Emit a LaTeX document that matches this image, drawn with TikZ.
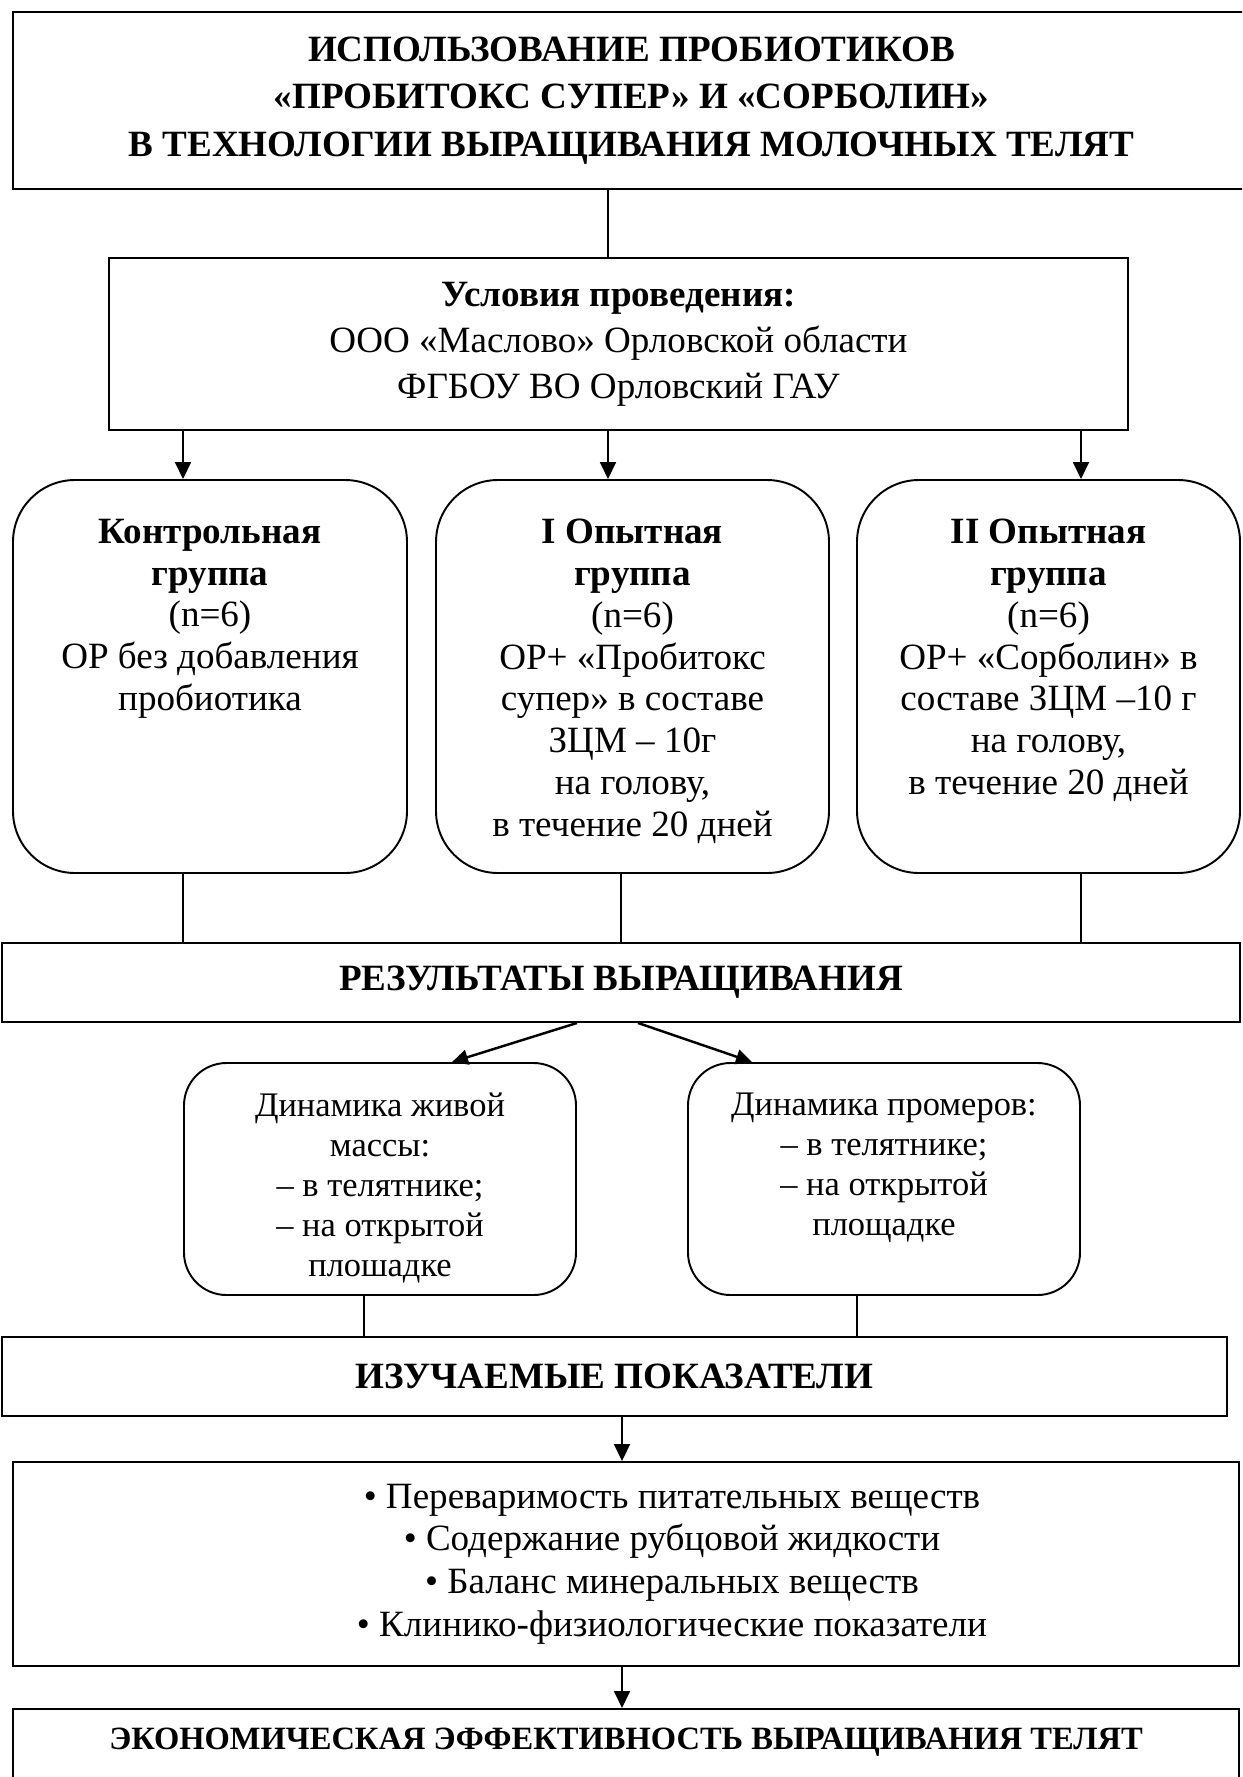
\documentclass[tikz,border=0pt]{standalone}
\usepackage{fontspec}
\setmainfont{Liberation Serif}
\usetikzlibrary{arrows.meta,calc}
\newcommand{\topfill}[3]{\parbox[c][#1][t]{#2}{\centering #3}}

\begin{document}
\begin{tikzpicture}[
  every node/.style={font=\fontsize{21.1pt}{23.8pt}\selectfont, inner sep=0pt},
  box/.style={rectangle, draw=black, line width=1.1pt, align=center},
  grp/.style={rectangle, rounded corners=1.24cm, draw=black, line width=1.1pt,
              inner xsep=0.14cm, inner ysep=0.78cm},
  dyn/.style={rectangle, rounded corners=0.85cm, draw=black, line width=1.1pt,
              inner xsep=0.17cm, inner ysep=0.6cm,
              font=\fontsize{19.6pt}{22.7pt}\selectfont},
  ln/.style={line width=1pt},
  arr/.style={-{Triangle[length=0.34cm, width=0.32cm]}, line width=1pt},
  darr/.style={-{Triangle[length=0.32cm, width=0.3cm]}, line width=1.4pt}
]
  \useasboundingbox (0,0) rectangle (24.84,-35.54);
  \clip (0,0) rectangle (24.84,-35.54);
  % ---- columns of the connectors ----
  \coordinate (c1) at (3.66,0);  \coordinate (c2) at (12.16,0);  \coordinate (c3) at (21.62,0);
  \coordinate (d2) at (12.42,0); \coordinate (e1) at (7.28,0);   \coordinate (e2) at (17.14,0);
  \coordinate (f1) at (12.44,0);
  % ---- head and conditions ----
  \node[box, minimum width=24.74cm, minimum height=3.54cm,
        font=\bfseries\fontsize{21.1pt}{27.2pt}\selectfont] (title) at (12.63,-2.01)
        {ИСПОЛЬЗОВАНИЕ ПРОБИОТИКОВ\\ «ПРОБИТОКС СУПЕР» И «СОРБОЛИН»\\ В ТЕХНОЛОГИИ ВЫРАЩИВАНИЯ МОЛОЧНЫХ ТЕЛЯТ};
  \node[box, minimum width=20.38cm, minimum height=3.44cm,
        font=\fontsize{21.1pt}{26.1pt}\selectfont] (cond) at (12.37,-6.88)
        {\textbf{Условия проведения:}\\ ООО «Маслово» Орловской области\\ ФГБОУ ВО Орловский ГАУ};
  \draw[ln] (title.south -| c2) -- (cond.north -| c2);
  % ---- groups ----
  \node[grp] (gk) at (4.2,-13.53) {\topfill{6.3cm}{7.6cm}{\textbf{Контрольная}\\ \textbf{группа}\\ (n=6)\\
        ОР без добавления\\ пробиотика}};
  \node[grp] (g1) at (12.65,-13.53) {\topfill{6.3cm}{7.58cm}{\textbf{I Опытная}\\ \textbf{группа}\\ (n=6)\\
        ОР+ «Пробитокс\\ супер» в составе\\ ЗЦМ – 10г\\ на голову,\\ в течение 20 дней}};
  \node[grp] (g2) at (20.97,-13.53) {\topfill{6.3cm}{7.38cm}{\textbf{II Опытная}\\ \textbf{группа}\\ (n=6)\\
        ОР+ «Сорболин» в\\ составе ЗЦМ –10 г\\ на голову,\\ в течение 20 дней}};
  \draw[arr] (cond.south -| c1) -- (gk.north -| c1);
  \draw[arr] (cond.south -| c2) -- (g1.north -| c2);
  \draw[arr] (cond.south -| c3) -- (g2.north -| c3);
  % ---- results ----
  \node[box, minimum width=24.76cm, minimum height=1.58cm,
        font=\bfseries\fontsize{21.1pt}{23.8pt}\selectfont] (res) at (12.42,-19.65) {РЕЗУЛЬТАТЫ ВЫРАЩИВАНИЯ};
  \draw[ln] (gk.south -| c1) -- (res.north -| c1);
  \draw[ln] (g1.south -| d2) -- (res.north -| d2);
  \draw[ln] (g2.south -| c3) -- (res.north -| c3);
  \node[dyn] (dynl) at (7.6,-23.58) {\topfill{3.44cm}{7.5cm}{Динамика живой\\ массы:\\ – в телятнике;\\
        – на открытой\\ плошадке}};
  \node[dyn] (dynr) at (17.68,-23.58) {\topfill{3.44cm}{7.5cm}{Динамика промеров:\\ – в телятнике;\\
        – на открытой\\ площадке}};
  \draw[darr] ($(res.south)+(-0.88,0)$) -- ($(dynl.north)+(1.44,0)$);
  \draw[darr] ($(res.south)+(0.34,0)$) -- ($(dynr.north)+(-2.64,0)$);
  % ---- indicators ----
  \node[box, minimum width=24.5cm, minimum height=1.58cm,
        font=\bfseries\fontsize{21.1pt}{23.8pt}\selectfont] (ind) at (12.29,-27.53) {ИЗУЧАЕМЫЕ ПОКАЗАТЕЛИ};
  \draw[ln] (dynl.south -| e1) -- (ind.north -| e1);
  \draw[ln] (dynr.south -| e2) -- (ind.north -| e2);
  \node[box, minimum width=24.52cm, minimum height=4.08cm,
        font=\fontsize{21.1pt}{24.2pt}\selectfont] (list) at (12.52,-31.28)
        {\hspace*{1.84cm}• Переваримость питательных веществ\\
         \hspace*{1.84cm}• Содержание рубцовой жидкости\\
         \hspace*{1.84cm}• Баланс минеральных веществ\\
         \hspace*{1.84cm}• Клинико-физиологические показатели};
  \draw[arr] (ind.south -| f1) -- (list.north -| f1);
  \node[draw=black, line width=1.1pt, anchor=north, minimum width=24.52cm,
        text height=0.82cm, text depth=1.6cm,
        font=\bfseries\fontsize{18.5pt}{22pt}\selectfont] (eco) at (12.52,-34.16)
        {ЭКОНОМИЧЕСКАЯ ЭФФЕКТИВНОСТЬ ВЫРАЩИВАНИЯ ТЕЛЯТ};
  \draw[arr] (list.south -| f1) -- (eco.north -| f1);
\end{tikzpicture}
\end{document}
